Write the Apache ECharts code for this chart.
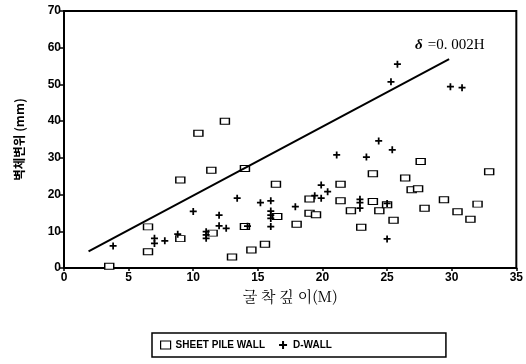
<!DOCTYPE html>
<html>
<head>
<meta charset="utf-8">
<script src="https://cdn.jsdelivr.net/npm/echarts@6/dist/echarts.min.js"></script>
<style>html,body{margin:0;padding:0;background:#fff}#c{width:526px;height:364px}</style>
</head>
<body>
<div id="c"></div>
<script>
// Excavation depth (M) vs wall displacement (mm)
var sheetPile = [
  [3.5,0.5],[6.5,11.2],[6.5,4.4],[9.0,8.0],[9.0,24.0],[10.4,36.7],[11.4,26.6],[12.45,40.0],
  [11.5,9.5],[13.0,3.0],[14.0,27.1],[14.0,11.3],[14.5,4.9],[15.55,6.5],[16.4,22.8],[16.5,14.0],
  [18.0,11.9],[19.0,18.8],[19.0,14.9],[19.5,14.5],[21.4,22.8],[21.4,18.3],[22.2,15.6],[23.0,11.1],
  [23.9,25.7],[23.9,18.1],[24.4,15.6],[25.0,17.2],[25.5,13.0],[26.4,24.5],[26.9,21.3],[27.4,21.6],
  [27.6,29.0],[27.9,16.3],[29.4,18.6],[30.45,15.3],[31.45,13.3],[32.0,17.4],[32.9,26.2]
];
var dWall = [
  [3.8,6.0],[7.0,8.1],[7.0,6.7],[7.8,7.4],[8.8,9.2],[10.0,15.4],[11.0,9.9],[11.0,9.0],[11.0,8.1],
  [12.0,14.4],[12.0,11.5],[12.55,10.8],[13.4,19.0],[14.2,11.4],[15.2,17.8],[16.0,18.3],[16.0,15.5],
  [16.0,14.4],[16.0,13.5],[16.0,11.3],[17.9,16.7],[19.4,19.7],[19.9,19.0],[19.9,22.6],[20.4,20.8],
  [21.1,30.8],[22.9,18.7],[22.9,17.8],[22.9,16.3],[23.4,30.2],[24.35,34.6],[25.0,17.6],[25.0,7.9],
  [25.3,50.7],[25.4,32.2],[25.8,55.5],[29.9,49.4],[30.8,49.1]
];
var trendLine = [[1.9,4.5],[29.8,56.9]];
var xTicks = {min:0, max:35, interval:5};
var yTicks = {min:0, max:70, interval:10};
var seriesNames = ['SHEET PILE WALL','D-WALL'];
var xTitle = '굴 착 깊 이(M)';
var yTitle = '벽체변위 (mm)';
var annotation = ['δ', ' =0. 002H'];

var plusPath = 'path://M3,0H5V3H8V5H5V8H3V5H0V3H3Z';
var chart = echarts.init(document.getElementById('c'), null, {renderer:'canvas'});
var labelFont = {color:'#000', fontFamily:'Liberation Sans', fontWeight:'bold', fontSize:12};
chart.setOption({
  animation:false,
  backgroundColor:'#fff',
  grid:{left:64, right:7, top:11, bottom:96, show:true, borderColor:'#000', borderWidth:2, backgroundColor:'transparent'},
  xAxis:{type:'value', min:xTicks.min, max:xTicks.max, interval:xTicks.interval,
    name:xTitle, nameLocation:'middle', nameGap:20,
    nameTextStyle:{fontFamily:'Noto Serif CJK KR, Noto Sans CJK KR', fontSize:15, color:'#000'},
    axisLine:{lineStyle:{color:'#000', width:2}},
    axisTick:{show:true, length:3, lineStyle:{color:'#000', width:1.5}},
    axisLabel:Object.assign({margin:4}, labelFont),
    splitLine:{show:false}},
  yAxis:{type:'value', min:yTicks.min, max:yTicks.max, interval:yTicks.interval,
    name:yTitle, nameLocation:'middle', nameGap:38, nameRotate:90,
    nameTextStyle:{fontFamily:'Noto Sans CJK KR', fontWeight:'bold', fontSize:12.5, color:'#000'},
    axisLine:{lineStyle:{color:'#000', width:2}},
    axisTick:{show:true, length:4, lineStyle:{color:'#000', width:1.5}},
    axisLabel:Object.assign({margin:3}, labelFont),
    splitLine:{show:false}},
  legend:{left:152, top:333, itemGap:14, itemWidth:10, itemHeight:8,
    padding:[7, 114, 7, 8],
    borderColor:'#000', borderWidth:1.5,
    textStyle:{fontFamily:'Liberation Sans', fontWeight:'bold', fontSize:10, color:'#000'},
    data:[{name:seriesNames[0], icon:'rect', itemStyle:{color:'#fff', borderColor:'#000', borderWidth:1.2}},
          {name:seriesNames[1], icon:plusPath, itemStyle:{color:'#000'}}]},
  graphic:[
    {type:'text', left:415, top:38, style:{text:annotation[0], fontFamily:'Liberation Serif', fontStyle:'italic', fontWeight:'bold', fontSize:15, fill:'#000'}},
    {type:'text', left:424, top:38, style:{text:annotation[1], fontFamily:'Liberation Serif', fontSize:15, fill:'#000'}}
  ],
  series:[
    {name:'trend', type:'line', data:trendLine, showSymbol:false, symbol:'none',
      lineStyle:{color:'#000', width:2}, silent:true},
    {name:seriesNames[0], type:'scatter', data:sheetPile, symbol:'rect', symbolSize:[9,6],
      itemStyle:{color:'#fff', borderColor:'#000', borderWidth:1.2, opacity:1}},
    {name:seriesNames[1], type:'scatter', data:dWall, symbol:plusPath, symbolSize:7,
      itemStyle:{color:'#000', opacity:1}}
  ]
});
</script>
</body>
</html>
